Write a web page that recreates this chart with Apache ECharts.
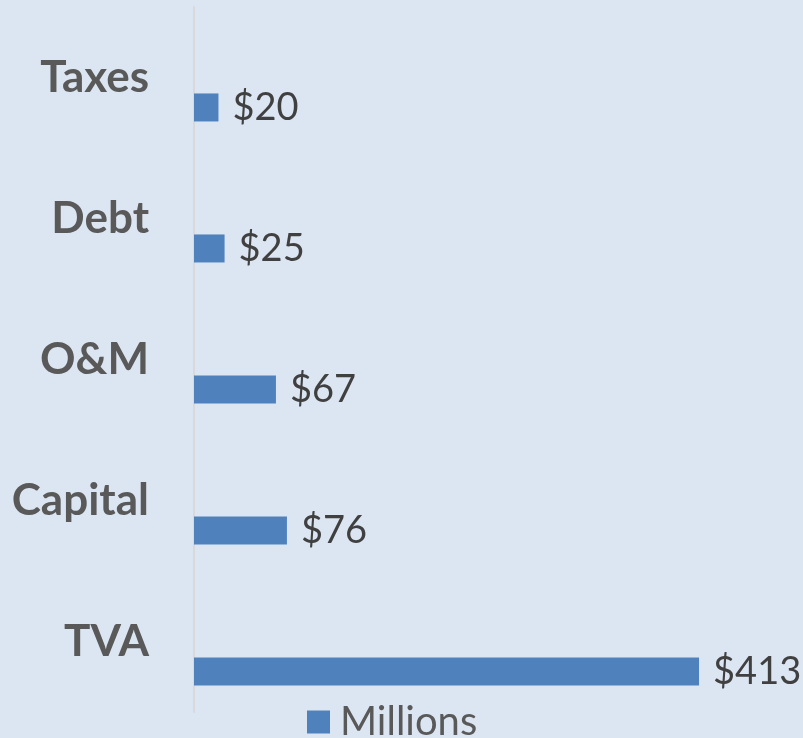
<!DOCTYPE html>
<html>
<head>
<meta charset="utf-8">
<script src="https://cdn.jsdelivr.net/npm/echarts@6/dist/echarts.min.js"></script>
<style>
html,body{margin:0;padding:0;background:#dce6f2;}
#chart{width:803px;height:738px;}
</style>
</head>
<body>
<div id="chart"></div>
<script>
const categories = ['Taxes', 'Debt', 'O&M', 'Capital', 'TVA'];
const millions = [20, 25, 67, 76, 413];
const seriesName = 'Millions';

const chart = echarts.init(document.getElementById('chart'));
chart.setOption({
  backgroundColor: '#dce6f2',
  animation: false,
  grid: { left: 194, right: 0, top: 7, bottom: 26, containLabel: false },
  legend: {
    data: [seriesName],
    left: 302, top: 697,
    itemWidth: 23, itemHeight: 23, itemGap: 10,
    icon: 'rect',
    textStyle: { fontFamily: 'Lato', fontSize: 40, color: '#595959', lineHeight: 40, padding: [0,0,0,5] }
  },
  xAxis: { type: 'value', min: 0, max: 498, show: false },
  yAxis: {
    type: 'category',
    data: categories,
    inverse: true,
    axisLine: { show: true, lineStyle: { color: '#d9d9d9', width: 2 } },
    axisTick: { show: false },
    axisLabel: { margin: 45, fontFamily: 'Lato', fontWeight: 'bold', fontSize: 44, color: '#595959' }
  },
  series: [
    {
      name: 'spacer', type: 'bar', data: categories.map(() => '-'),
      barWidth: 28, barGap: '114%', silent: true
    },
    {
      name: seriesName, type: 'bar', data: millions,
      barWidth: 28, barGap: '114%',
      itemStyle: { color: '#4f81bd' },
      label: {
        show: true, position: 'right', distance: 14,
        formatter: p => '$' + p.value,
        fontFamily: 'Lato', fontSize: 38, color: '#404040'
      }
    }
  ]
});
</script>
</body>
</html>
